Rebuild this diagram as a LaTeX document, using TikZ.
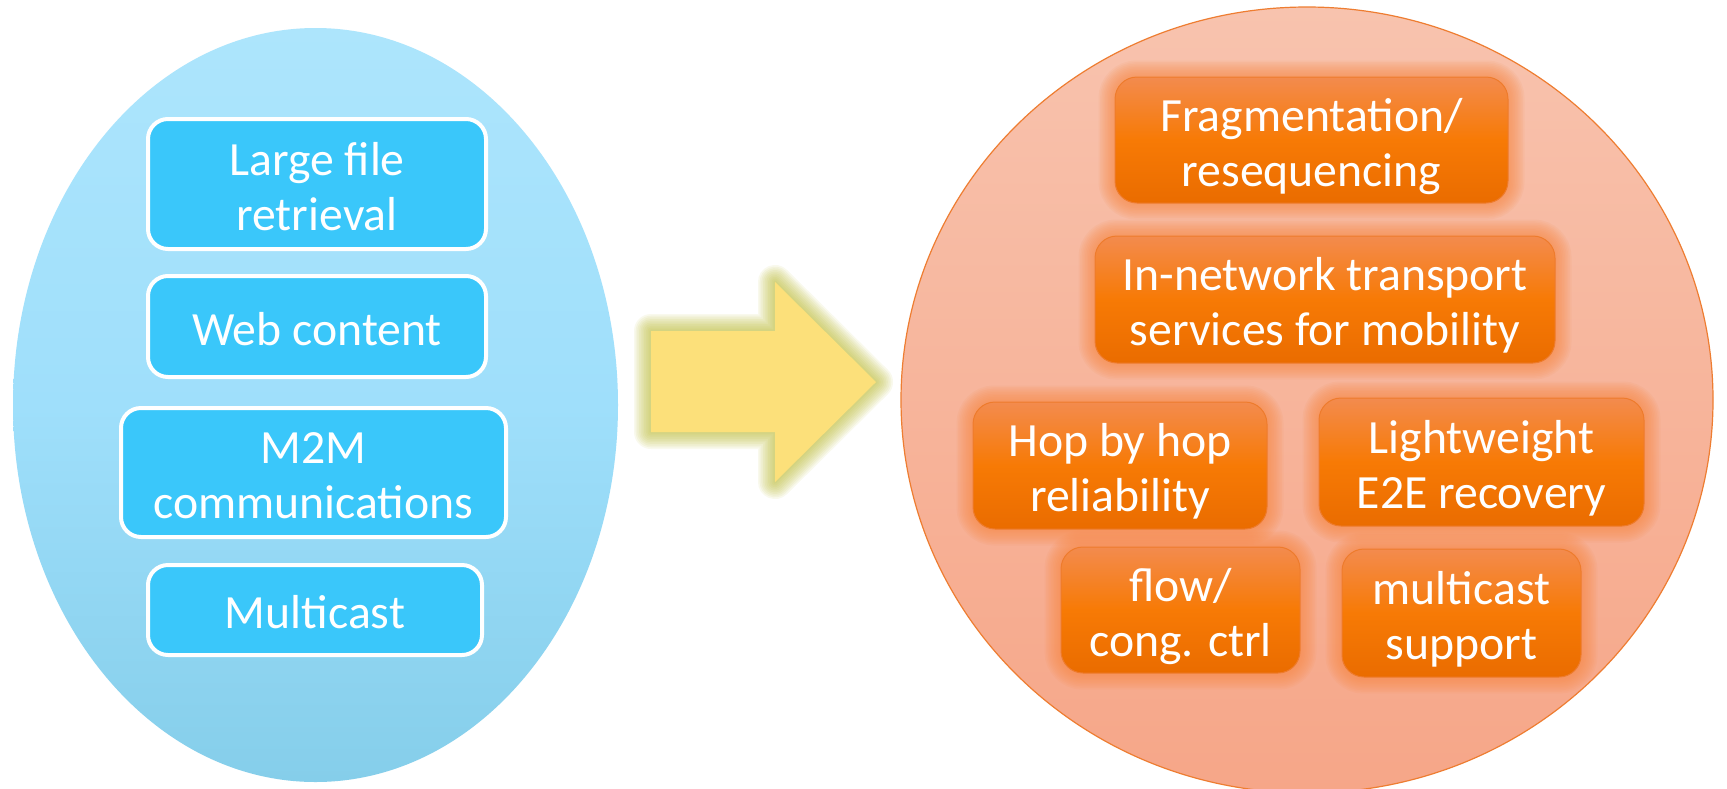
\documentclass[tikz,border=0pt]{standalone}
\usepackage{fontspec}
\setmainfont{Carlito}

\definecolor{skytop}{HTML}{ADE5FC}
\definecolor{skymid}{HTML}{9FDFFB}
\definecolor{skybot}{HTML}{85CEEA}
\definecolor{cyanbox}{HTML}{3AC7FA}
\definecolor{peachtop}{HTML}{F8C3AE}
\definecolor{peachbot}{HTML}{F6A688}
\definecolor{peachedge}{HTML}{EE7D31}
\definecolor{ortop}{HTML}{F38B4E}
\definecolor{ormid}{HTML}{F77A05}
\definecolor{orbot}{HTML}{EA6C00}
\definecolor{oredge}{HTML}{EE7B2C}
\definecolor{orglow}{HTML}{F68A45}
\definecolor{arrowfill}{HTML}{FCE07A}
\definecolor{arrowglow}{HTML}{BDBD38}

\pgfdeclarelayer{shapes}
\pgfdeclarelayer{halo}
\pgfsetlayers{shapes,halo,main}

% fixed line height so every label sits the same way in its box
\newcommand\mystrut{\rule[-9pt]{0pt}{55pt}}

% soft glow around a named box
\newcommand\boxhalo[1]{%
  \begin{pgfonlayer}{halo}
    \foreach \k in {1,...,10}{%
      \draw[orglow, line width=\k*3.2pt, opacity=0.085, rounded corners=22pt]
        (#1.north west) rectangle (#1.south east);}
  \end{pgfonlayer}}

\tikzset{
  label font/.style={font=\fontsize{47.7pt}{55pt}\selectfont},
  lbox/.style={label font, rounded corners=20pt, fill=cyanbox, draw=white,
    line width=4pt, text=white, inner sep=0pt, align=center},
  rbox/.style={label font, rounded corners=22pt, top color=ortop,
    bottom color=orbot, middle color=ormid, draw=oredge, line width=1pt,
    text=white, inner sep=0pt, align=center},
}

\begin{document}
\begin{tikzpicture}[x=1pt, y=-1pt]
  \useasboundingbox (0,0) rectangle (1727,788);

  \begin{pgfonlayer}{shapes}
    \fill[white] (0,0) rectangle (1727,788);
    % application pool
    \shade[top color=skytop, bottom color=skybot, middle color=skymid]
      (315.5,405) ellipse [x radius=302.5, y radius=377];
    % transport services pool
    \shade[draw=peachedge, line width=1.2pt, top color=peachtop, bottom color=peachbot]
      (1307,400) ellipse [x radius=406, y radius=393];
  \end{pgfonlayer}

  % block arrow with its glow
  \begin{pgfonlayer}{halo}
    \foreach \k in {1,...,10}{%
      \draw[arrowglow, line width=\k*3.4pt, opacity=0.09, line join=round]
        (651,331) -- (775,331) -- (775,282) -- (876,382) -- (775,482)
        -- (775,432) -- (651,432) -- cycle;}
  \end{pgfonlayer}
  \fill[arrowfill] (651,331) -- (775,331) -- (775,282) -- (876,382)
    -- (775,482) -- (775,432) -- (651,432) -- cycle;

  % applications
  \node[lbox, minimum width=338pt, minimum height=130pt] (lfile) at (317,184)
    {\mystrut Large file\\\mystrut retrieval};
  \node[lbox, minimum width=338pt, minimum height=101pt] (web) at (317,326.5)
    {\mystrut Web content};
  \node[lbox, minimum width=385pt, minimum height=129pt] (mtm) at (313.5,472.5)
    {\mystrut M2M\\\mystrut communications};
  \node[lbox, minimum width=334pt, minimum height=90pt] (mcast) at (315,610)
    {\mystrut Multicast};

  % transport services
  \node[rbox, minimum width=393pt, minimum height=126pt] (frag) at (1311.5,140)
    {\mystrut Fragmentation/\\\mystrut resequencing};
  \node[rbox, minimum width=460pt, minimum height=127pt] (innet) at (1325,299.5)
    {\mystrut In-network transport\\\mystrut services for mobility};
  \node[rbox, minimum width=294pt, minimum height=127pt] (hop) at (1120,465.5)
    {\mystrut Hop by hop\\\mystrut reliability};
  \node[rbox, minimum width=325pt, minimum height=128pt] (e2e) at (1481.5,462)
    {\mystrut Lightweight\\\mystrut E2E recovery};
  \node[rbox, minimum width=239pt, minimum height=126pt] (flow) at (1180.5,610)
    {\mystrut flow/\\\mystrut cong. ctrl};
  \node[rbox, minimum width=239pt, minimum height=128pt] (msup) at (1461.5,613)
    {\mystrut multicast\\\mystrut support};

  \boxhalo{frag}
  \boxhalo{innet}
  \boxhalo{hop}
  \boxhalo{e2e}
  \boxhalo{flow}
  \boxhalo{msup}
\end{tikzpicture}
\end{document}
